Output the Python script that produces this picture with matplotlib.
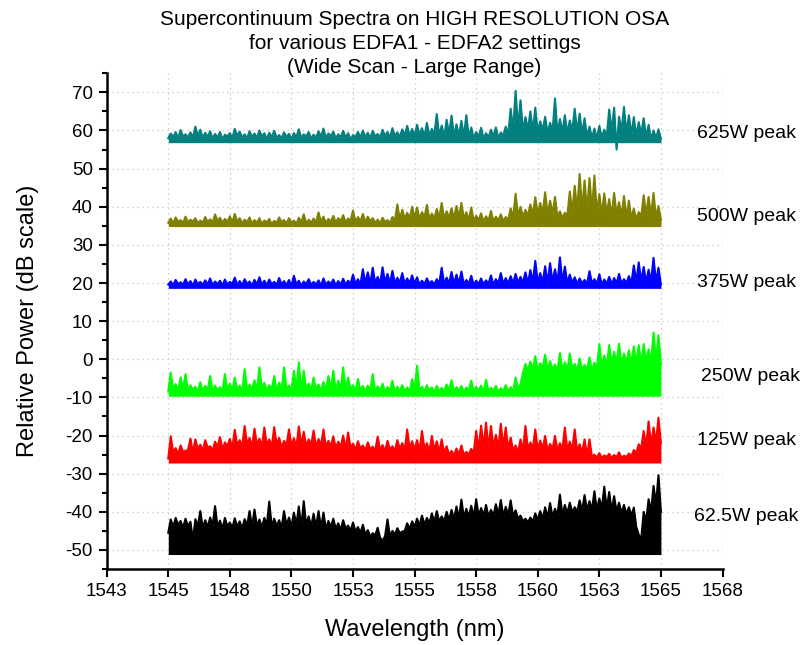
import numpy as np
import matplotlib
matplotlib.use("Agg")
from matplotlib import pyplot as plt
from matplotlib.ticker import MultipleLocator

plt.rcParams['font.family'] = ['Liberation Sans', 'DejaVu Sans']
plt.rcParams['axes.unicode_minus'] = False

# wavelength axis of the traces, 0.1 nm step (even samples = band top, odd = spike)
wl = np.linspace(1545.0, 1565.0, 201)

p625 = [
    58.0, 59.2, 58.3, 59.6, 57.9, 60.1, 58.4, 59.0, 58.2, 59.5, 58.1, 61.0, 58.5, 60.2, 58.0, 59.4, 58.3, 59.8, 57.8, 59.1,
    58.2, 59.6, 57.6, 58.9, 58.4, 59.3, 58.0, 60.4, 58.6, 59.7, 58.1, 59.0, 57.9, 59.8, 58.3, 59.2, 58.0, 60.0, 58.4, 59.3,
    57.8, 59.4, 58.2, 59.9, 58.1, 58.8, 57.9, 59.5, 58.3, 59.1, 57.7, 59.3, 58.2, 60.3, 58.0, 59.0, 58.4, 59.6, 57.9, 58.9,
    58.1, 59.8, 58.3, 60.5, 58.0, 59.2, 58.5, 59.7, 57.9, 59.0, 58.2, 59.9, 58.1, 59.3, 57.6, 58.8, 58.3, 59.6, 58.1, 60.0,
    58.2, 59.4, 58.0, 59.9, 58.4, 59.1, 58.2, 60.2, 58.5, 59.6, 58.1, 60.6, 58.6, 59.5, 58.3, 60.3, 58.7, 61.2, 58.5, 60.4,
    58.6, 61.5, 58.8, 60.6, 58.4, 62.0, 58.6, 60.4, 58.9, 64.3, 58.5, 61.3, 58.2, 62.8, 58.9, 63.9, 58.3, 61.6, 58.5, 62.5,
    58.4, 64.0, 58.2, 60.8, 57.9, 59.6, 58.3, 60.7, 57.8, 59.3, 58.1, 60.2, 58.4, 60.8, 57.9, 59.5, 58.6, 61.0, 58.8, 65.7,
    60.0, 70.4, 60.5, 67.9, 59.8, 63.5, 60.2, 65.0, 59.6, 66.0, 59.4, 62.4, 60.0, 63.6, 59.2, 62.0, 59.7, 68.4, 59.0, 63.0,
    59.5, 64.0, 59.2, 62.6, 59.8, 65.7, 59.4, 64.4, 59.0, 63.2, 58.3, 61.0, 58.0, 60.5, 57.8, 61.2, 58.1, 60.2, 58.4, 65.5,
    59.6, 66.0, 55.0, 63.6, 59.8, 66.2, 59.2, 64.0, 58.8, 63.5, 58.5, 62.2, 59.0, 63.2, 58.2, 61.5, 57.6, 60.0, 58.0, 60.3,
    57.8]

p500 = [
    35.8, 36.9, 35.6, 37.2, 36.0, 36.5, 35.7, 37.4, 35.9, 36.6, 36.1, 37.0, 35.6, 36.4, 35.8, 37.3, 36.0, 36.7, 35.9, 38.0,
    36.2, 37.1, 35.8, 36.8, 36.0, 37.5, 35.9, 38.1, 36.1, 37.0, 35.7, 36.6, 36.0, 37.2, 35.6, 36.5, 35.8, 37.0, 35.5, 36.4,
    35.9, 36.8, 35.4, 36.3, 35.7, 37.2, 36.0, 36.5, 35.6, 37.0, 35.8, 36.4, 35.5, 37.1, 35.9, 38.0, 35.6, 36.6, 35.8, 36.9,
    35.9, 38.5, 36.0, 37.4, 35.7, 36.8, 36.1, 37.6, 35.8, 37.0, 36.2, 37.8, 35.9, 36.9, 36.3, 39.0, 36.0, 37.3, 36.1, 38.1,
    35.9, 37.4, 36.2, 37.0, 35.8, 36.6, 35.6, 37.1, 36.0, 36.5, 35.7, 37.3, 36.4, 40.6, 36.6, 39.2, 36.8, 38.4, 37.0, 40.0,
    37.0, 39.8, 36.8, 38.6, 37.2, 40.5, 36.6, 38.2, 36.9, 39.4, 37.0, 41.0, 36.7, 38.8, 37.1, 39.6, 36.9, 40.2, 37.2, 41.0,
    36.8, 38.6, 36.4, 39.8, 36.2, 37.6, 36.5, 38.3, 36.0, 37.5, 36.3, 38.9, 36.1, 37.4, 36.4, 38.0, 36.2, 37.3, 36.5, 39.6,
    37.0, 43.4, 37.5, 40.0, 37.2, 39.2, 37.6, 40.6, 37.8, 42.5, 38.0, 41.0, 38.2, 43.8, 37.9, 41.6, 38.1, 42.6, 37.2, 38.8,
    37.0, 38.4, 37.6, 44.0, 38.5, 45.5, 38.8, 48.6, 39.0, 46.9, 38.6, 47.5, 38.9, 48.2, 38.2, 43.3, 37.8, 43.5, 38.0, 42.0,
    37.6, 43.6, 37.9, 41.2, 37.5, 42.8, 37.2, 41.6, 36.8, 39.5, 36.6, 38.6, 37.4, 43.0, 37.8, 42.6, 37.6, 43.6, 37.0, 40.2,
    36.6]

p375 = [
    19.6, 20.4, 19.4, 20.8, 19.7, 20.2, 19.5, 21.0, 19.6, 20.5, 19.3, 20.9, 19.7, 20.3, 19.5, 20.7, 19.6, 21.2, 19.4, 20.4,
    19.7, 20.6, 19.3, 20.9, 19.6, 20.3, 19.8, 21.4, 19.5, 20.5, 19.4, 21.0, 19.7, 20.4, 19.3, 20.8, 19.6, 21.5, 19.5, 20.6,
    19.4, 20.9, 19.7, 20.3, 19.5, 21.3, 19.6, 20.5, 19.4, 20.8, 19.2, 21.9, 19.6, 20.6, 19.3, 20.4, 19.7, 21.0, 19.5, 20.3,
    19.6, 20.7, 19.3, 21.2, 19.5, 20.4, 19.7, 20.9, 19.4, 20.5, 19.6, 21.1, 19.5, 20.6, 19.8, 22.2, 19.7, 21.0, 19.6, 23.6,
    19.9, 22.8, 19.7, 24.0, 20.0, 21.6, 19.8, 24.1, 20.1, 22.4, 19.8, 23.2, 19.9, 21.4, 20.0, 22.6, 19.7, 21.2, 19.9, 22.0,
    19.8, 21.5, 19.6, 20.6, 19.7, 21.2, 19.9, 20.5, 19.6, 21.0, 19.8, 24.0, 19.7, 21.4, 19.9, 22.9, 19.7, 22.2, 19.8, 23.0,
    19.6, 20.8, 19.8, 21.9, 19.5, 20.6, 19.7, 21.2, 19.6, 20.7, 19.8, 22.0, 19.5, 21.0, 19.9, 22.6, 19.7, 21.3, 19.8, 21.8,
    19.9, 22.4, 20.0, 21.6, 20.1, 22.8, 19.9, 23.4, 20.2, 25.8, 20.0, 22.6, 20.1, 24.4, 19.9, 25.2, 20.2, 23.6, 20.0, 26.7,
    20.1, 24.3, 19.9, 22.2, 20.0, 21.5, 19.8, 21.2, 19.9, 20.8, 19.7, 23.1, 19.9, 21.0, 19.8, 22.3, 19.6, 20.9, 19.8, 21.6,
    19.7, 21.3, 19.9, 22.4, 19.8, 21.0, 20.0, 21.8, 19.9, 24.6, 20.2, 25.4, 20.3, 24.2, 20.1, 23.5, 20.4, 26.6, 20.2, 24.0,
    19.6]

p250 = [
    -8.5, -3.5, -8.0, -6.5, -8.3, -4.8, -7.9, -3.9, -8.4, -6.8, -8.1, -7.2, -8.6, -6.0, -8.2, -7.0, -8.0, -4.4, -8.5, -6.9,
    -8.2, -7.3, -8.4, -3.9, -8.0, -6.4, -8.3, -4.8, -8.1, -6.9, -8.5, -2.6, -8.2, -6.6, -8.0, -5.5, -8.4, -2.1, -7.9, -6.2,
    -8.3, -6.8, -8.0, -4.4, -8.5, -6.1, -8.2, -2.1, -8.0, -6.9, -8.3, -3.0, -8.1, -0.8, -8.4, -3.0, -8.0, -6.4, -8.3, -4.8,
    -8.1, -6.6, -8.4, -5.9, -8.0, -4.4, -8.2, -3.0, -8.5, -5.6, -8.1, -2.1, -8.3, -4.8, -8.0, -6.8, -8.4, -5.2, -8.2, -7.0,
    -8.5, -6.9, -8.2, -3.9, -8.6, -7.1, -8.3, -6.4, -8.5, -7.3, -8.2, -5.6, -8.6, -7.2, -8.4, -6.8, -8.3, -7.4, -8.5, -5.2,
    -8.0, -1.7, -8.3, -7.2, -8.5, -6.8, -8.2, -7.4, -8.6, -7.0, -8.3, -7.5, -8.4, -6.6, -8.2, -5.5, -8.5, -7.3, -8.3, -7.0,
    -8.6, -7.4, -8.2, -5.6, -8.5, -7.2, -8.3, -6.9, -8.6, -5.4, -8.4, -7.5, -8.2, -7.0, -8.6, -7.6, -8.4, -6.8, -8.5, -7.3,
    -8.5, -4.8, -8.0, -6.5, -3.5, -1.2, -3.0, -0.6, -2.8, 0.8, -3.2, -1.0, -2.5, 1.2, -3.0, -0.5, -2.7, -1.4, -3.1, 1.6,
    -2.8, -0.8, -3.0, 1.5, -2.6, -1.2, -3.2, 0.2, -2.9, -1.5, -2.7, 0.5, -3.0, -0.9, -2.4, 4.0, -2.0, 1.0, -1.8, 3.7,
    -1.5, 2.0, -1.2, 4.1, -1.6, 1.5, -1.0, 2.4, -1.3, 3.4, -1.1, 3.7, -1.4, 4.0, -0.8, 2.6, -1.0, 7.0, -0.9, 6.3,
    -1.2]

p125 = [
    -26.0, -20.2, -24.5, -23.3, -25.0, -22.6, -24.2, -24.0, -23.8, -20.8, -24.6, -21.0, -23.5, -22.4, -24.0, -21.2, -23.2, -22.8, -23.9, -21.6,
    -23.0, -20.4, -23.6, -21.8, -22.8, -20.9, -23.2, -18.5, -22.6, -21.2, -23.0, -17.5, -22.4, -20.6, -23.1, -18.2, -22.5, -20.8, -22.9, -17.9,
    -22.6, -21.0, -23.0, -17.8, -22.4, -20.6, -23.1, -21.4, -22.5, -18.4, -22.8, -20.7, -23.2, -17.6, -22.6, -19.0, -22.9, -21.0, -22.5, -18.7,
    -23.0, -20.9, -22.7, -18.4, -23.2, -21.4, -22.8, -20.2, -23.4, -21.6, -23.0, -20.0, -23.6, -19.2, -23.3, -22.1, -23.8, -21.5, -23.4, -22.6,
    -24.0, -21.8, -23.6, -22.9, -24.1, -20.3, -23.8, -22.5, -24.2, -21.4, -23.7, -22.8, -24.0, -21.2, -23.5, -22.0, -23.9, -18.4, -23.6, -21.5,
    -23.8, -21.2, -24.0, -18.8, -23.6, -22.0, -24.2, -20.1, -23.9, -21.5, -24.3, -21.0, -24.6, -22.8, -25.0, -24.0, -25.2, -23.4, -25.0, -22.6,
    -25.1, -24.3, -25.0, -23.5, -24.6, -18.8, -23.8, -17.4, -23.2, -16.6, -23.5, -17.5, -23.0, -19.8, -23.4, -16.9, -23.1, -17.9, -23.6, -20.5,
    -24.0, -22.6, -24.3, -21.0, -24.0, -17.5, -23.6, -21.8, -23.4, -18.4, -23.8, -21.3, -23.5, -20.1, -24.0, -22.2, -23.6, -20.1, -23.9, -22.0,
    -23.7, -17.9, -24.0, -21.6, -23.8, -18.4, -24.2, -22.3, -24.5, -21.0, -25.3, -21.0, -25.6, -25.0, -25.8, -24.6, -25.9, -25.2, -25.6, -24.8,
    -25.9, -25.1, -25.7, -24.4, -25.8, -25.3, -25.6, -24.7, -25.4, -23.8, -24.5, -22.3, -23.4, -18.8, -23.0, -16.3, -22.6, -17.9, -21.8, -15.3,
    -22.0]

p62 = [
    -45.5, -42.0, -44.0, -41.6, -43.5, -42.4, -44.2, -41.8, -43.8, -42.6, -47.5, -41.9, -43.8, -39.8, -44.3, -42.2, -44.0, -41.5, -43.6, -38.5,
    -44.0, -42.3, -44.5, -41.6, -43.8, -42.8, -44.2, -41.7, -43.9, -42.5, -44.4, -41.9, -43.6, -39.8, -44.0, -39.4, -43.8, -42.0, -44.1, -41.6,
    -43.5, -37.3, -44.0, -41.8, -43.7, -42.2, -44.2, -39.8, -43.6, -41.5, -43.9, -40.2, -43.4, -38.6, -44.0, -37.2, -43.6, -41.2, -43.9, -40.5,
    -44.0, -39.8, -44.3, -40.2, -44.6, -42.4, -44.0, -41.8, -44.5, -43.0, -44.8, -42.2, -44.4, -43.6, -45.0, -42.8, -45.2, -44.0, -45.6, -43.4,
    -46.0, -44.8, -46.5, -45.6, -46.2, -44.2, -46.8, -47.6, -46.4, -42.0, -46.5, -45.0, -46.0, -44.3, -45.6, -45.2, -45.0, -43.0, -44.5, -42.5,
    -44.0, -41.8, -43.6, -41.0, -43.4, -41.6, -43.0, -40.4, -42.8, -39.8, -42.6, -41.2, -42.5, -40.0, -42.2, -39.5, -42.0, -38.6, -41.8, -36.8,
    -41.6, -39.2, -41.4, -38.4, -41.5, -36.7, -41.2, -39.0, -41.0, -38.2, -41.3, -39.5, -41.0, -38.0, -40.8, -36.9, -41.2, -38.7, -40.9, -37.0,
    -41.2, -39.6, -41.8, -41.0, -42.5, -41.8, -42.8, -41.5, -42.6, -40.4, -42.2, -39.8, -41.9, -38.8, -41.6, -37.7, -41.4, -39.2, -41.0, -35.5,
    -40.8, -38.2, -40.5, -37.6, -40.2, -38.8, -40.0, -37.0, -39.8, -35.6, -39.6, -37.2, -39.5, -34.6, -39.6, -36.5, -39.2, -33.4, -39.4, -34.8,
    -39.8, -35.9, -40.0, -37.6, -40.4, -38.2, -40.6, -38.8, -41.0, -38.9, -44.0, -46.0, -47.2, -40.0, -42.5, -36.7, -40.0, -33.2, -38.0, -30.4,
    -40.0]

traces = [p625, p500, p375, p250, p125, p62]
floors = [56.8, 34.8, 18.6, -9.7, -27.2, -51.2]   # bottom of each noise band
colors = ['#008080', '#808000', '#0000ff', '#00ff00', '#ff0000', '#000000']
labels = ['625W peak', '500W peak', '375W peak', '250W peak', '125W peak', '62.5W peak']

xticks = [1542.5, 1545, 1547.5, 1550, 1552.5, 1555, 1557.5, 1560, 1562.5, 1565, 1567.5]
xtick_labels = ['1543', '1545', '1548', '1550', '1553', '1555', '1558', '1560', '1563', '1565', '1568']
yticks = [-50, -40, -30, -20, -10, 0, 10, 20, 30, 40, 50, 60, 70]

# label placement (layout only)
label_x = [1566.48, 1566.48, 1566.48, 1566.64, 1566.48, 1566.35]
label_y = [59.2, 37.4, 20.1, -4.6, -21.4, -41.3]

fig = plt.figure(figsize=(8.01, 6.45), dpi=100)
ax = fig.add_axes([0.1332, 0.1178, 0.7688, 0.7686])

for y, fl, c in zip(traces, floors, colors):
    ax.fill_between(wl, fl, y, color=c, lw=0, zorder=2)
    ax.plot(wl, y, color=c, lw=1.5, zorder=3)

for lx, ly, t in zip(label_x, label_y, labels):
    ax.text(lx, ly, t, fontsize=14, ha='left', va='center', clip_on=False)

ax.set_xlim(1542.5, 1567.5)
ax.set_ylim(-55, 75)
ax.set_xticks(xticks)
ax.set_xticklabels(xtick_labels)
ax.set_yticks(yticks)
ax.yaxis.set_minor_locator(MultipleLocator(5))
ax.tick_params(axis='both', which='major', direction='out', length=6, width=1.5, labelsize=13.5, pad=4)
ax.tick_params(axis='y', which='minor', direction='out', length=3.6, width=1.5)

ax.spines['top'].set_visible(False)
ax.spines['right'].set_visible(False)
ax.spines['left'].set_linewidth(1.8)
ax.spines['bottom'].set_linewidth(1.8)

ax.grid(True, which='major', linestyle=(0, (1, 3)), color='#c4c4c4', lw=0.9)
ax.set_axisbelow(True)

ax.set_xlabel('Wavelength (nm)', fontsize=17, labelpad=14)
ax.set_ylabel('Relative Power (dB scale)', fontsize=17, labelpad=19)

fig.text(0.5175, 0.985, 'Supercontinuum Spectra on HIGH RESOLUTION OSA\nfor various EDFA1 - EDFA2 settings\n(Wide Scan - Large Range)',
         ha='center', va='top', fontsize=15, linespacing=1.33)

fig.savefig('out.png', dpi=100)
